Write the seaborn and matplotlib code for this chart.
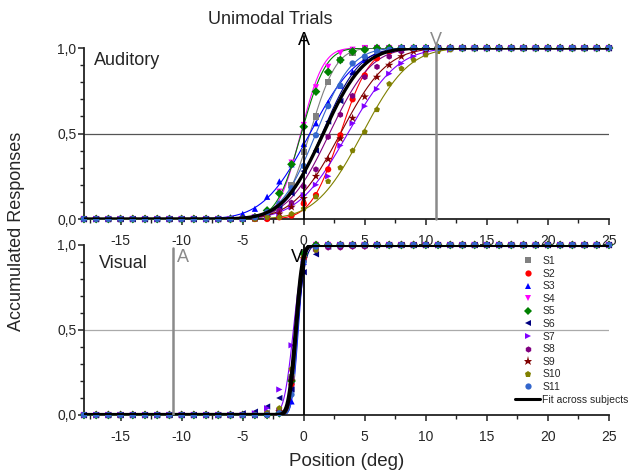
import math
import numpy as np
import matplotlib
matplotlib.use('Agg')
import matplotlib.pyplot as plt
from matplotlib.lines import Line2D
from matplotlib.ticker import MultipleLocator, FuncFormatter
import seaborn as sns

# Step 1: data
subjects = ['S1', 'S2', 'S3', 'S4', 'S5', 'S6', 'S7', 'S8', 'S9', 'S10', 'S11']
colors = ['#808080', '#ff0000', '#0000ff', '#ff00ff', '#008000', '#000080',
          '#8000ff', '#800080', '#800000', '#808000', '#3366cc']
markers = ['s', 'o', '^', 'v', 'D', '<', '>', 'h', '*', 'p', 'o']

positions = np.arange(-18, 26)

# auditory: 12 zeros (-18..-7), read values (-6..12), 13 ones (13..25)
aud_mid = [
    [0.0, 0.0, 0.0, 0.02, 0.06, 0.20, 0.39, 0.60, 0.80, 0.93, 0.97, 1.0, 1.0, 1.0, 1.0, 1.0, 1.0, 1.0, 1.0],
    [0.0, 0.0, 0.0, 0.0, 0.01, 0.02, 0.09, 0.14, 0.29, 0.49, 0.70, 0.84, 0.94, 0.98, 1.0, 1.0, 1.0, 1.0, 1.0],
    [0.01, 0.03, 0.06, 0.13, 0.22, 0.32, 0.44, 0.56, 0.68, 0.78, 0.86, 0.93, 0.97, 0.99, 0.99, 1.0, 1.0, 1.0, 1.0],
    [0.0, 0.0, 0.01, 0.04, 0.16, 0.33, 0.55, 0.77, 0.89, 0.97, 0.99, 1.0, 1.0, 1.0, 1.0, 1.0, 1.0, 1.0, 1.0],
    [0.0, 0.0, 0.01, 0.05, 0.15, 0.32, 0.54, 0.745, 0.86, 0.93, 0.98, 0.99, 1.0, 1.0, 1.0, 1.0, 1.0, 1.0, 1.0],
    [0.0, 0.0, 0.01, 0.03, 0.07, 0.15, 0.28, 0.40, 0.57, 0.69, 0.85, 0.93, 0.97, 0.99, 1.0, 1.0, 1.0, 1.0, 1.0],
    [0.0, 0.0, 0.01, 0.01, 0.03, 0.07, 0.14, 0.20, 0.25, 0.43, 0.56, 0.66, 0.76, 0.85, 0.91, 0.95, 0.97, 0.99, 0.99],
    [0.0, 0.0, 0.01, 0.02, 0.05, 0.095, 0.19, 0.29, 0.48, 0.61, 0.72, 0.83, 0.89, 0.95, 0.98, 0.99, 1.0, 1.0, 1.0],
    [0.0, 0.0, 0.01, 0.01, 0.03, 0.07, 0.12, 0.25, 0.35, 0.47, 0.59, 0.715, 0.83, 0.90, 0.95, 0.98, 0.99, 1.0, 1.0],
    [0.0, 0.0, 0.0, 0.01, 0.01, 0.03, 0.06, 0.13, 0.22, 0.30, 0.40, 0.51, 0.64, 0.79, 0.88, 0.93, 0.96, 0.98, 0.99],
    [0.0, 0.0, 0.01, 0.04, 0.09, 0.18, 0.31, 0.49, 0.66, 0.78, 0.91, 0.95, 0.98, 0.99, 1.0, 1.0, 1.0, 1.0, 1.0],
]
# visual: 12 zeros (-18..-7), read values (-6..5), 20 ones (6..25)
vis_mid = [
    [0.0, 0.0, 0.0, 0.01, 0.02, 0.22, 0.93, 1.0, 1.0, 1.0, 1.0, 1.0],
    [0.0, 0.0, 0.0, 0.0, 0.01, 0.18, 0.92, 0.99, 1.0, 1.0, 1.0, 1.0],
    [0.0, 0.0, 0.0, 0.01, 0.02, 0.08, 0.90, 0.99, 1.0, 1.0, 1.0, 1.0],
    [0.0, 0.0, 0.0, 0.0, 0.02, 0.25, 0.94, 1.0, 1.0, 1.0, 1.0, 1.0],
    [0.0, 0.0, 0.0, 0.0, 0.01, 0.20, 0.95, 1.0, 1.0, 1.0, 1.0, 1.0],
    [0.0, 0.01, 0.02, 0.05, 0.10, 0.15, 0.84, 0.945, 0.99, 1.0, 1.0, 1.0],
    [0.0, 0.0, 0.01, 0.04, 0.15, 0.41, 0.90, 0.98, 1.0, 1.0, 1.0, 1.0],
    [0.0, 0.0, 0.0, 0.01, 0.03, 0.22, 0.92, 0.97, 0.985, 0.985, 0.99, 0.99],
    [0.0, 0.0, 0.0, 0.0, 0.02, 0.20, 0.92, 0.99, 1.0, 1.0, 1.0, 1.0],
    [0.0, 0.0, 0.0, 0.01, 0.04, 0.27, 0.93, 0.97, 1.0, 1.0, 1.0, 1.0],
    [0.0, 0.0, 0.0, 0.0, 0.01, 0.12, 0.90, 0.99, 1.0, 1.0, 1.0, 1.0],
]

# cumulative gaussian fits (mean, sigma) per subject
aud_mu = [0.5, 3.0, 0.5, -0.25, -0.2, 1.5, 3.6, 2.1, 3.0, 4.8, 1.0]
aud_sd = [1.7, 1.9, 3.0, 1.45, 1.6, 2.4, 3.2, 2.7, 3.0, 3.0, 2.3]
vis_mu = [-0.6, -0.55, -0.45, -0.65, -0.6, -0.55, -0.85, -0.6, -0.58, -0.7, -0.5]
vis_sd = [0.4, 0.4, 0.4, 0.4, 0.38, 0.55, 0.6, 0.42, 0.4, 0.45, 0.38]
aud_all = (1.6, 2.6)
vis_all = (-0.65, 0.45)

# locations of the other modality's stimulus
aud_a, aud_v = 0.0, 10.8
vis_a, vis_v = -10.7, 0.0

erf = np.vectorize(math.erf)


def cum_gauss(x, mu, sd):
    return 0.5 * (1 + erf((x - mu) / (sd * math.sqrt(2))))


# Step 2: figure
sns.set_style('ticks')
plt.rcParams['font.family'] = ['Liberation Sans', 'DejaVu Sans']
plt.rcParams['axes.unicode_minus'] = False

fig = plt.figure(figsize=(6.29, 4.71), dpi=100)
ax1 = fig.add_axes([0.1335, 0.535, 0.8347, 0.363])
ax2 = fig.add_axes([0.1335, 0.1189, 0.8347, 0.361])

xs = np.linspace(-18, 25, 600)


def draw_panel(ax, mids, n_after, mus, sds, fit_all, fit_lw):
    for i, s in enumerate(subjects):
        sns.lineplot(x=xs, y=cum_gauss(xs, mus[i], sds[i]), ax=ax, color=colors[i],
                     lw=0.8, zorder=2)
    for i, s in enumerate(subjects):
        vals = [0.0] * 12 + mids[i] + [1.0] * n_after
        sz = 40 if markers[i] == '*' else 20
        sns.scatterplot(x=positions, y=vals, ax=ax, color=colors[i], marker=markers[i],
                        s=sz, edgecolor='none', clip_on=False, zorder=3)
    sns.lineplot(x=xs, y=cum_gauss(xs, *fit_all), ax=ax, color='black', lw=fit_lw, zorder=4)


draw_panel(ax1, aud_mid, 13, aud_mu, aud_sd, aud_all, 2.4)
draw_panel(ax2, vis_mid, 20, vis_mu, vis_sd, vis_all, 3.0)

# reference lines
ax1.axhline(0.5, color='#555555', lw=0.9, zorder=1)
ax2.axhline(0.5, color='#aaaaaa', lw=0.9, zorder=1)
ax1.plot([aud_a, aud_a], [0, 1.07], color='black', lw=1.3, clip_on=False, zorder=5)
ax1.plot([aud_v, aud_v], [0, 1.03], color='#8a8a8a', lw=1.8, clip_on=False, zorder=5)
ax1.text(aud_a, 0.995, 'A', ha='center', va='bottom', fontsize=13, color='black')
ax1.text(aud_v, 0.995, 'V', ha='center', va='bottom', fontsize=13, color='#8a8a8a')
ax2.plot([vis_a, vis_a], [0, 0.98], color='#8a8a8a', lw=1.8, zorder=5)
ax2.plot([vis_v, vis_v], [0, 1.0], color='black', lw=1.3, zorder=5)
ax2.text(vis_a + 0.3, 0.975, 'A', ha='left', va='top', fontsize=13, color='#8a8a8a')
ax2.text(vis_v - 0.1, 0.975, 'V', ha='right', va='top', fontsize=13, color='black')

ax1.text(-17.2, 0.93, 'Auditory', ha='left', va='center', fontsize=13)
ax2.text(-16.8, 0.89, 'Visual', ha='left', va='center', fontsize=13)

fmt = FuncFormatter(lambda v, _: f'{v:.1f}'.replace('.', ','))
for ax in (ax1, ax2):
    ax.set_xlim(-18, 25)
    ax.set_ylim(0, 1)
    ax.xaxis.set_major_locator(MultipleLocator(5))
    ax.xaxis.set_minor_locator(MultipleLocator(2.5))
    ax.yaxis.set_major_locator(MultipleLocator(0.5))
    ax.yaxis.set_minor_locator(MultipleLocator(0.1))
    ax.yaxis.set_major_formatter(fmt)
    ax.tick_params(axis='both', which='major', length=4.5, width=1.1, labelsize=10, color='#222222')
    ax.tick_params(axis='both', which='minor', length=3, width=1.0, color='#222222')
    ax.tick_params(axis='x', which='major', pad=6)
    ax.tick_params(axis='y', which='major', pad=1)
    for side in ('top', 'right'):
        ax.spines[side].set_visible(False)
    for side in ('left', 'bottom'):
        ax.spines[side].set_linewidth(1.3)
        ax.spines[side].set_color('#222222')
    ax.set_xlabel('')
    ax.set_ylabel('')

ax2.set_xlabel('Position (deg)', fontsize=13.5, labelpad=7)
fig.text(17 / 629, 1 - 231 / 471, 'Accumulated Responses', rotation=90,
         ha='center', va='center', fontsize=13)
fig.text(270 / 629, 1 - 19 / 471, 'Unimodal Trials', ha='center', va='center', fontsize=13)

# legend
handles = [Line2D([], [], ls='none', marker=m, color=c, markersize=(6.5 if m == '*' else 4.5),
                  markeredgewidth=0) for m, c in zip(markers, colors)]
handles.append(Line2D([], [], color='black', lw=2.2))
labels = subjects + ['Fit across subjects']
ax2.legend(handles, labels, frameon=False, loc='upper left',
           bbox_to_anchor=(515 / 629, 1 - 256 / 471), bbox_transform=fig.transFigure,
           fontsize=7.5, labelspacing=0.25, handlelength=2.4, handletextpad=0.2,
           borderpad=0, borderaxespad=0)

fig.savefig('out.png', dpi=100)
